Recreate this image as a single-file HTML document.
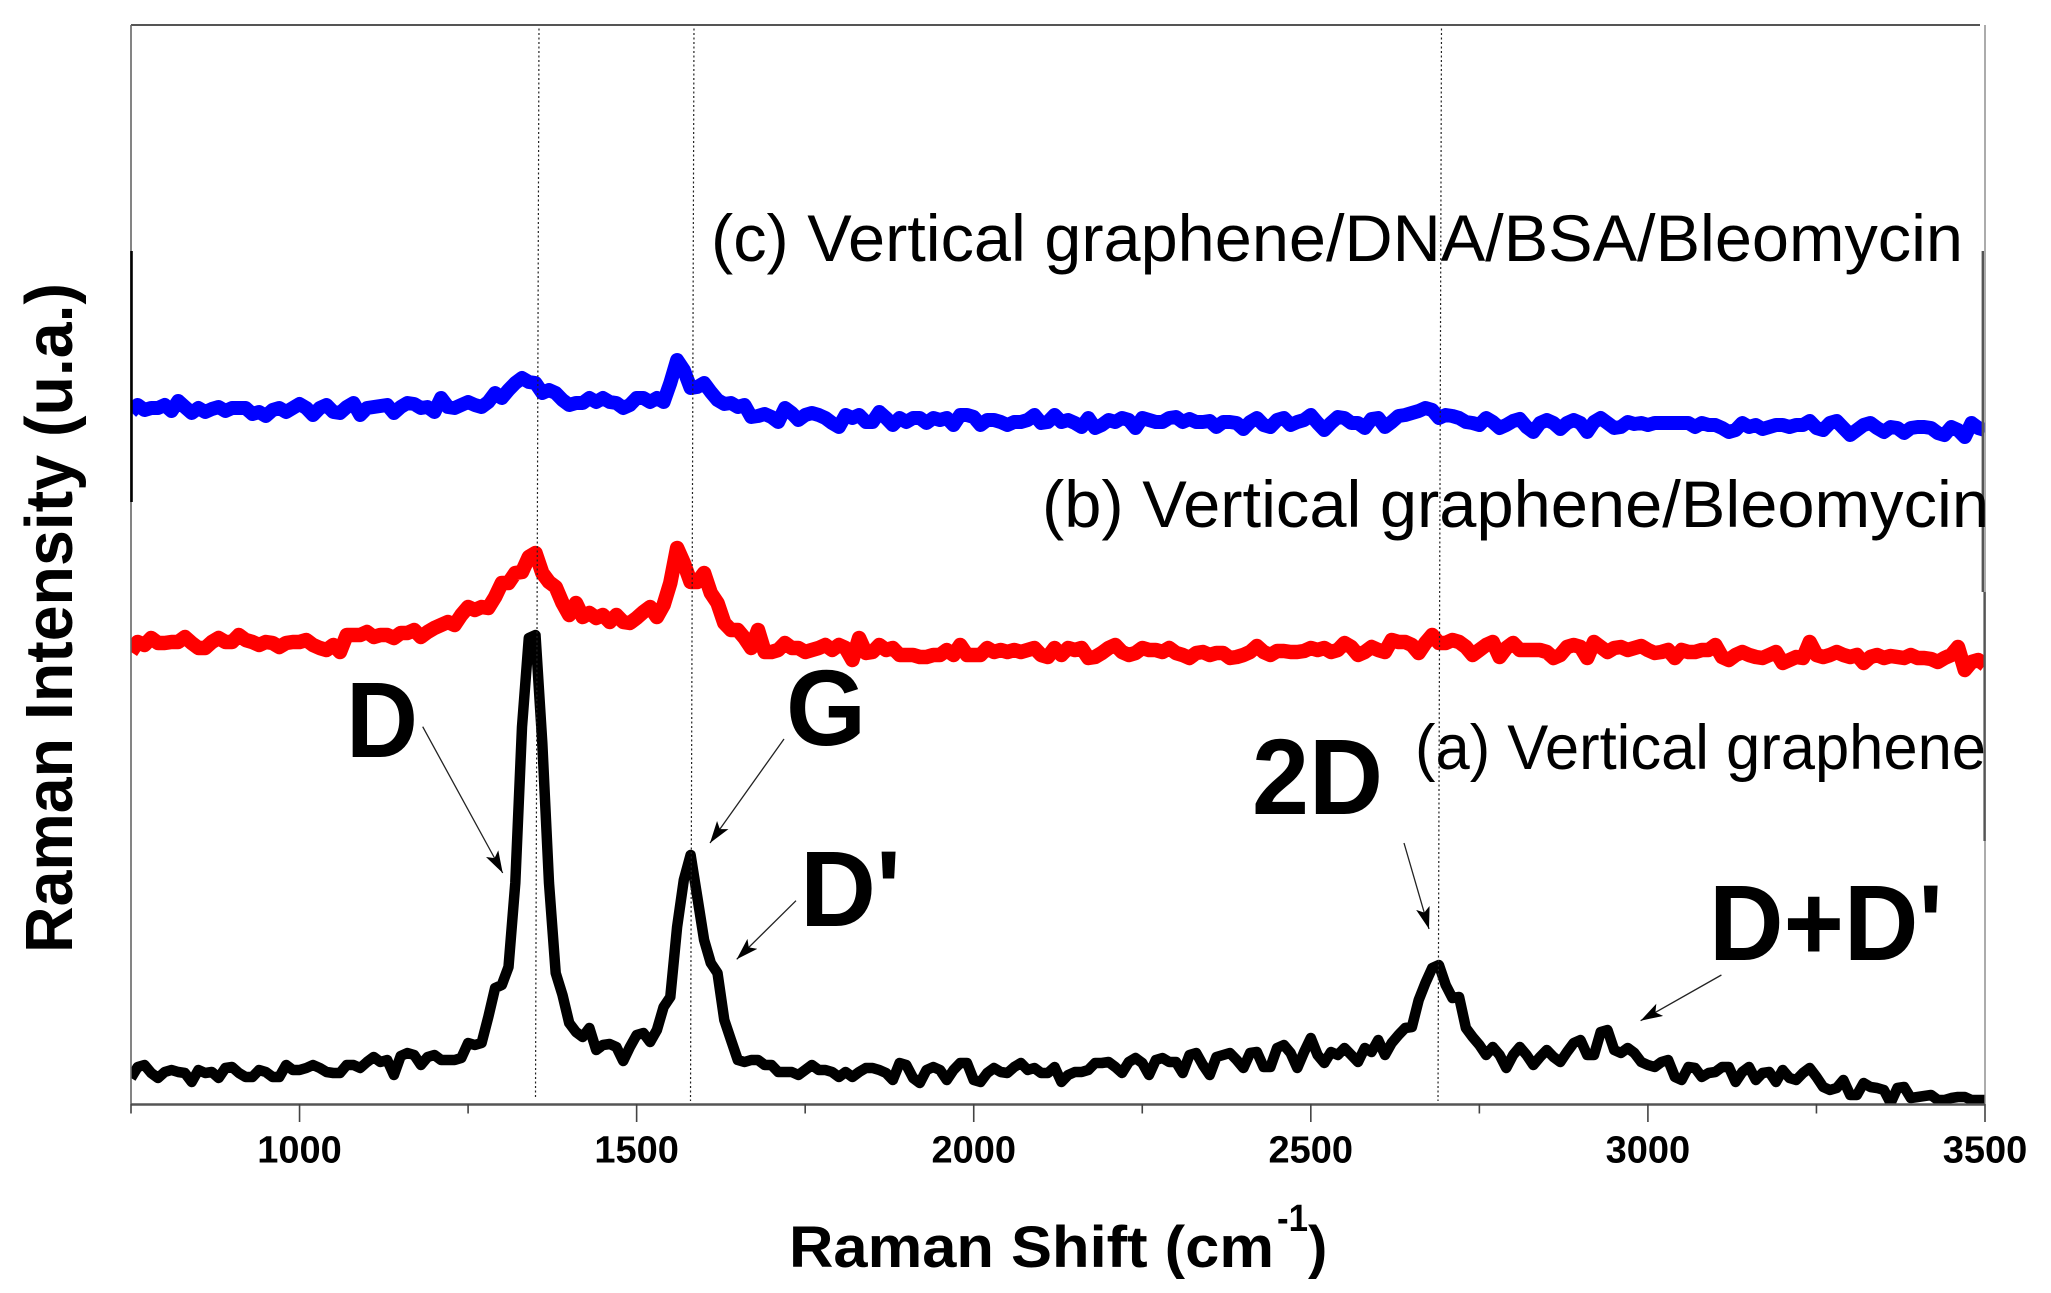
<!DOCTYPE html>
<html lang="en">
<head>
<meta charset="utf-8">
<title>Raman spectra of vertical graphene</title>
<style>
  html, body { margin: 0; padding: 0; background: #fff; }
  svg { display: block; }
  text { font-family: "Liberation Sans", sans-serif; fill: #000; }
  .big { font-weight: bold; font-size: 108px; }
  .curve-label { font-size: 66px; }
  .tick-label { font-weight: bold; font-size: 38px; text-anchor: middle; }
</style>
</head>
<body>
<svg id="chart" xmlns="http://www.w3.org/2000/svg" width="2051" height="1293" viewBox="0 0 2051 1293">
  <defs>
    <clipPath id="plot-clip"><rect x="131" y="25" width="1854" height="1080"></rect></clipPath>
    <marker id="arrow-head" markerUnits="userSpaceOnUse" markerWidth="24" markerHeight="16" refX="22" refY="7" orient="auto">
      <path d="M0,0 L22,7 L0,14 L5,7 Z" fill="#000"></path>
    </marker>
  </defs>
  <rect x="0" y="0" width="2051" height="1293" fill="#fff"></rect>

  <g id="series-layer" clip-path="url(#plot-clip)"></g>

  <g stroke="#222" stroke-width="1.2" stroke-dasharray="2 2.5" fill="none">
    <line x1="539" y1="24" x2="535.5" y2="1097"></line>
    <line x1="694" y1="24" x2="690.5" y2="1101"></line>
    <line x1="1441.5" y1="24" x2="1438" y2="1101"></line>
  </g>

  <g fill="none">
    <line x1="131" y1="25" x2="1980" y2="25" stroke="#555" stroke-width="2"></line>
    <line x1="131" y1="25" x2="131" y2="1104" stroke="#666" stroke-width="1.6"></line>
    <line x1="131.5" y1="251" x2="131.5" y2="502" stroke="#000" stroke-width="2.6"></line>
    <line x1="1985" y1="25" x2="1985" y2="1104" stroke="#888" stroke-width="1.4"></line>
    <line x1="1982.8" y1="251" x2="1982.8" y2="592" stroke="#555" stroke-width="2.4"></line>
    <line x1="1984.6" y1="592" x2="1984.6" y2="841" stroke="#555" stroke-width="2.4"></line>
    <line x1="131" y1="1104.5" x2="1985" y2="1104.5" stroke="#555" stroke-width="2.4"></line>
  </g>

  <g id="tick-layer"></g>

  <text x="789" y="1267" font-size="58" font-weight="bold" textLength="485" lengthAdjust="spacingAndGlyphs">Raman Shift (cm</text>
  <text x="1277" y="1231" font-size="38" font-weight="bold" textLength="31" lengthAdjust="spacingAndGlyphs">-1</text>
  <text x="1308" y="1267" font-size="58" font-weight="bold">)</text>
  <text transform="translate(72 953) rotate(-90)" x="0" y="0" font-size="67" font-weight="bold" textLength="670" lengthAdjust="spacingAndGlyphs">Raman Intensity (u.a.)</text>

  <text class="curve-label" x="711" y="261" textLength="1252" lengthAdjust="spacingAndGlyphs">(c) Vertical graphene/DNA/BSA/Bleomycin</text>
  <text class="curve-label" x="1042" y="527" textLength="947" lengthAdjust="spacingAndGlyphs">(b) Vertical graphene/Bleomycin</text>
  <text class="curve-label" x="1415" y="769" style="font-size:63px" textLength="571" lengthAdjust="spacingAndGlyphs">(a) Vertical graphene</text>

  <text class="big" x="346" y="757" textLength="72" lengthAdjust="spacingAndGlyphs">D</text>
  <text class="big" x="786" y="745" textLength="80" lengthAdjust="spacingAndGlyphs">G</text>
  <text class="big" x="800" y="926" textLength="101" lengthAdjust="spacingAndGlyphs">D'</text>
  <text class="big" x="1252" y="814" textLength="131" lengthAdjust="spacingAndGlyphs">2D</text>
  <text class="big" x="1709" y="960" textLength="234" lengthAdjust="spacingAndGlyphs">D+D'</text>

  <g stroke="#222" stroke-width="1.3" fill="none">
    <line x1="422.7" y1="726.7" x2="502.7" y2="873" marker-end="url(#arrow-head)"></line>
    <line x1="784" y1="739" x2="710" y2="843" marker-end="url(#arrow-head)"></line>
    <line x1="796" y1="900.7" x2="736.7" y2="959.3" marker-end="url(#arrow-head)"></line>
    <line x1="1404" y1="843" x2="1429" y2="929" marker-end="url(#arrow-head)"></line>
    <line x1="1721.4" y1="975" x2="1640.6" y2="1020.7" marker-end="url(#arrow-head)"></line>
  </g>
</svg>

<script>
// Sampling of the spectra (cm-1)
const shiftStart = 750;
const shiftStep = 10;

// Axis tick values and printed labels
const majorTicks = [1000, 1500, 2000, 2500, 3000, 3500];
const majorTickLabels = ['1000', '1500', '2000', '2500', '3000', '3500'];
const minorTicks = [750, 1250, 1750, 2250, 2750, 3250];

// Raman intensity (a.u.), one value every 10 cm-1 from 750 to 3500
const intensityBlue = [
  692,699,694,696,696,699,693,703,697,691,
  696,692,695,697,693,696,696,696,690,692,
  688,694,696,692,696,700,696,689,696,699,
  692,691,697,701,689,696,697,698,699,691,
  697,701,700,696,697,692,706,697,696,699,
  702,699,697,702,711,706,714,721,726,722,
  721,711,714,711,704,699,701,701,706,702,
  706,702,701,696,699,706,706,702,706,702,
  721,744,734,716,717,721,712,704,700,701,
  697,699,687,688,690,687,682,696,691,684,
  689,691,689,686,681,677,689,686,689,682,
  682,692,686,679,686,682,686,686,681,686,
  684,686,679,689,689,687,679,684,684,682,
  679,682,682,684,689,681,682,689,682,684,
  681,677,686,676,679,684,682,686,684,676,
  686,684,682,682,686,687,682,685,682,682,
  683,677,682,682,681,675,682,686,679,677,
  684,686,679,682,684,689,681,674,681,687,
  686,681,681,676,685,686,677,682,688,689,
  691,693,696,694,686,689,688,686,682,681,
  679,686,682,676,679,683,685,677,672,681,
  684,681,675,681,684,681,672,682,686,681,
  676,677,682,680,681,679,681,681,681,681,
  681,681,677,681,679,679,676,672,674,681,
  677,679,675,677,679,679,677,679,679,683,
  676,674,681,683,676,669,674,679,681,676,
  672,677,676,671,676,677,677,676,671,669,
  677,674,667,681,676,674
];

const intensityRed = [
  452,462,459,466,461,461,462,462,467,461,
  456,456,462,466,462,462,469,464,462,459,
  462,461,457,461,462,462,464,459,456,454,
  459,452,469,469,469,472,467,469,469,466,
  471,471,474,467,472,476,479,482,479,489,
  497,494,497,496,507,521,521,531,532,547,
  551,531,522,517,501,489,501,487,491,486,
  489,482,489,482,481,486,492,497,487,499,
  521,556,541,522,522,531,511,501,481,474,
  474,466,456,474,452,452,454,461,456,456,
  452,454,456,459,454,459,456,444,466,451,
  452,459,454,456,449,449,449,447,447,449,
  449,454,449,459,449,449,449,456,452,454,
  452,454,452,454,456,449,447,456,449,456,
  454,456,446,447,451,456,459,452,449,451,
  456,454,454,452,456,451,449,446,451,452,
  449,451,451,446,447,449,452,458,452,449,
  453,453,452,452,453,456,454,456,452,454,
  461,457,449,452,457,454,452,464,462,462,
  459,451,461,469,461,461,464,462,457,449,
  454,459,462,447,456,461,454,454,454,454,
  452,446,449,457,459,457,446,462,457,452,
  456,457,454,456,458,454,451,452,454,446,
  454,452,452,454,454,459,447,444,449,452,
  449,447,446,449,452,441,444,447,446,462,
  449,447,449,452,449,447,449,441,447,449,
  446,448,447,446,449,446,446,445,442,446,
  449,457,434,442,444,439
];

const intensityBlack = [
  26,37,39,31,26,32,34,32,31,22,
  34,31,32,26,36,37,31,27,27,34,
  32,27,27,39,34,34,36,39,36,32,
  31,31,39,39,36,42,47,42,44,29,
  48,51,49,39,47,49,44,44,44,46,
  61,59,61,87,116,119,137,221,377,466,
  469,361,221,131,109,81,72,67,76,54,
  59,60,57,43,57,69,71,62,74,97,
  107,177,224,249,207,164,141,131,84,64,
  44,42,44,44,39,39,32,32,32,29,
  34,39,34,34,32,27,32,27,32,36,
  36,34,31,24,41,39,26,21,34,37,
  34,24,34,41,41,24,22,31,36,32,
  31,37,41,34,36,31,31,37,22,29,
  32,32,34,41,41,42,37,31,42,46,
  41,29,44,46,42,42,31,49,51,39,
  29,47,49,51,44,36,51,52,37,37,
  56,59,51,36,52,66,49,41,52,49,
  56,49,42,56,52,64,49,61,69,76,
  77,104,121,136,139,119,106,107,76,67,
  59,49,57,49,36,49,57,49,39,47,
  54,47,42,52,61,64,49,49,72,74,
  54,51,56,51,42,39,37,42,44,27,
  24,37,36,27,31,32,37,37,22,32,
  37,24,31,32,22,34,26,24,31,36,
  27,17,14,16,24,9,9,21,17,16,
  14,1,16,17,6,7,8,9,4,4,
  6,7,7,4,4,4
];

const SVG_NS = 'http://www.w3.org/2000/svg';

function xScale(shift) {
  return 131 + (shift - 750) * (1985 - 131) / (3500 - 750);
}

function yScale(intensity) {
  return 1104 - intensity * (1104 - 25) / 1079;
}

function curvePoints(values) {
  return values.map(function (value, i) {
    const shift = shiftStart + i * shiftStep;
    return xScale(shift).toFixed(1) + ',' + yScale(value).toFixed(1);
  }).join(' ');
}

const seriesLayer = document.getElementById('series-layer');

const blueLine = document.createElementNS(SVG_NS, 'polyline');


blueLine.setAttribute('points', curvePoints(intensityBlue));
blueLine.setAttribute('fill', 'none');
blueLine.setAttribute('stroke', '#0000ff');
blueLine.setAttribute('stroke-width', '14');
blueLine.setAttribute('stroke-linejoin', 'round');
seriesLayer.appendChild(blueLine);

const redLine = document.createElementNS(SVG_NS, 'polyline');


redLine.setAttribute('points', curvePoints(intensityRed));
redLine.setAttribute('fill', 'none');
redLine.setAttribute('stroke', '#ff0000');
redLine.setAttribute('stroke-width', '14.5');
redLine.setAttribute('stroke-linejoin', 'round');
seriesLayer.appendChild(redLine);

const blackLine = document.createElementNS(SVG_NS, 'polyline');


blackLine.setAttribute('points', curvePoints(intensityBlack));
blackLine.setAttribute('fill', 'none');
blackLine.setAttribute('stroke', '#000000');
blackLine.setAttribute('stroke-width', '10.5');
blackLine.setAttribute('stroke-linejoin', 'round');
seriesLayer.appendChild(blackLine);

const tickLayer = document.getElementById('tick-layer');

majorTicks.forEach(function (tick, i) {
  const mark = document.createElementNS(SVG_NS, 'line');
  
  
  mark.setAttribute('x1', xScale(tick));
  mark.setAttribute('x2', xScale(tick));
  mark.setAttribute('y1', 1104);
  mark.setAttribute('y2', 1122);
  mark.setAttribute('stroke', '#444');
  mark.setAttribute('stroke-width', '1.6');
  tickLayer.appendChild(mark);

  const label = document.createElementNS(SVG_NS, 'text');
  
  
  label.setAttribute('class', 'tick-label');
  label.setAttribute('x', xScale(tick));
  label.setAttribute('y', 1162.5);
  label.textContent = majorTickLabels[i];
  tickLayer.appendChild(label);
});

minorTicks.forEach(function (tick) {
  const mark = document.createElementNS(SVG_NS, 'line');
  
  
  mark.setAttribute('x1', xScale(tick));
  mark.setAttribute('x2', xScale(tick));
  mark.setAttribute('y1', 1104);
  mark.setAttribute('y2', 1113.5);
  mark.setAttribute('stroke', '#444');
  mark.setAttribute('stroke-width', '1.6');
  tickLayer.appendChild(mark);
});
</script>
</body>
</html>
